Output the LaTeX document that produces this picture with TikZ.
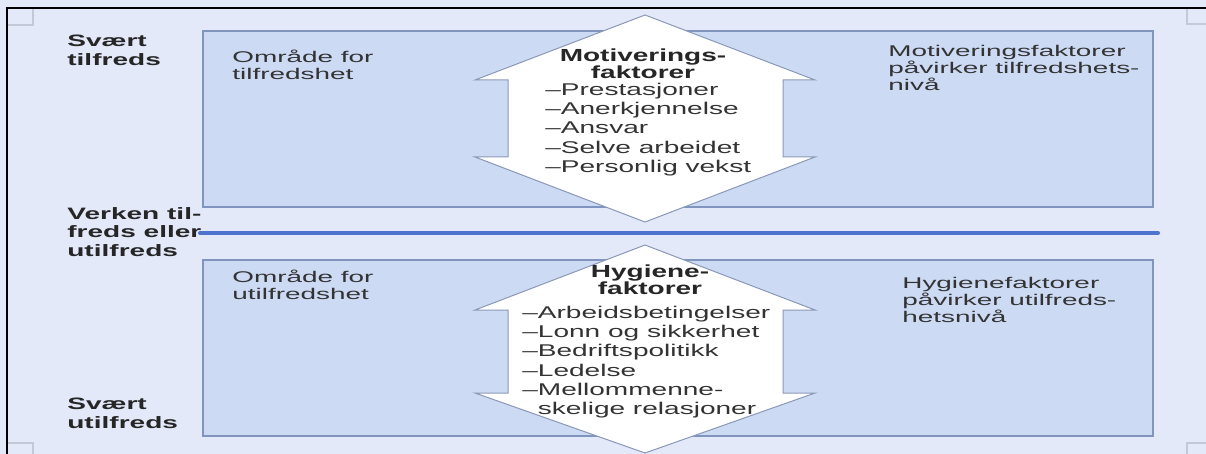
\documentclass[tikz,border=0pt]{standalone}
\usepackage{fontspec}
\setmainfont{Liberation Sans}
\definecolor{bg}{HTML}{E3E9F9}
\definecolor{boxfill}{HTML}{CCDAF4}
\definecolor{boxline}{HTML}{7F95BD}
\definecolor{midline}{HTML}{4F74CF}
\definecolor{arrline}{HTML}{8A98B8}
\definecolor{txt}{HTML}{333333}
\definecolor{cornermark}{HTML}{C4C9D8}
\begin{document}
\begin{tikzpicture}[x=1pt,y=-1pt,
  zone/.style={draw=boxline, fill=boxfill, line width=1.3pt},
  dblarrow/.style={draw=arrline, fill=white, line width=1pt, line join=miter},
  sidelbl/.style={anchor=north west, inner sep=0pt, align=left, font=\fontsize{16.5}{18.8}\selectfont\bfseries, xscale=1.7, text=black!85},
  zonetxt/.style={anchor=north west, inner sep=0pt, align=left, font=\fontsize{15.5}{17}\selectfont, xscale=1.8, text=txt},
  headtxt/.style={anchor=north, inner sep=0pt, align=center, font=\fontsize{17.5}{17}\selectfont\bfseries, xscale=1.6, text=black!85},
  listtxt/.style={anchor=north west, inner sep=0pt, align=left, font=\fontsize{17}{19.2}\selectfont, xscale=1.65, text=txt},
  cmark/.style={draw=cornermark, line width=1.2pt}]
\useasboundingbox (0,0) rectangle (1206,454);
\fill[bg] (0,0) rectangle (1206,454);
% corner marks
\draw[cmark] (7,25) -- (33,25) -- (33,8);
\draw[cmark] (1206,24) -- (1187,24) -- (1187,8);
\draw[cmark] (1206,443) -- (1187,443) -- (1187,454);
\draw[cmark] (7,443) -- (33,443) -- (33,454);
% frame
\draw[line width=2.5pt] (7,454) -- (7,8) -- (1206,8);
% zones
\draw[zone] (203,31) rectangle (1153,207);
\draw[zone] (203,260) rectangle (1153,436);
% neutral line
\coordinate (ls) at (200,233);
\coordinate (le) at (1158,233);
\draw[midline, line width=4pt, line cap=round] (ls) -- (le);
% double arrows
\draw[dblarrow] (645,15) -- (815,80) -- (783,80) -- (783,157) -- (815,157) -- (645,222)
  -- (475,157) -- (508,157) -- (508,80) -- (475,80) -- cycle;
\draw[dblarrow] (645,245) -- (815,310) -- (783,310) -- (783,393) -- (815,393) -- (645,453)
  -- (475,393) -- (508,393) -- (508,310) -- (475,310) -- cycle;
% side labels
\node[sidelbl] (s1) at (67,35) {Svært\\tilfreds};
\node[sidelbl] (s2) at (67,207) {Verken til-\\freds eller\\utilfreds};
\node[sidelbl] (s3) at (67,398) {Svært\\utilfreds};
% zone texts
\node[zonetxt] (z1) at (232,50) {Område for\\tilfredshet};
\node[zonetxt] (z2) at (232,270) {Område for\\utilfredshet};
\node[zonetxt] (r1) at (888,45) {Motiveringsfaktorer\\påvirker tilfredshets-\\nivå};
\node[zonetxt] (r2) at (902,277) {Hygienefaktorer\\påvirker utilfreds-\\hetsnivå};
% arrow texts
\node[headtxt] (h1) at (643,49) {Motiverings-\\faktorer};
\node[listtxt] (l1) at (545,83) {--Prestasjoner\\--Anerkjennelse\\--Ansvar\\--Selve arbeidet\\--Personlig vekst};
\node[headtxt] (h2) at (650,265) {Hygiene-\\faktorer};
\node[listtxt] (l2) at (522,306) {--Arbeidsbetingelser\\--Lonn og sikkerhet\\--Bedriftspolitikk\\--Ledelse\\--Mellommenne-\\\phantom{--}skelige relasjoner};
\end{tikzpicture}
\end{document}
